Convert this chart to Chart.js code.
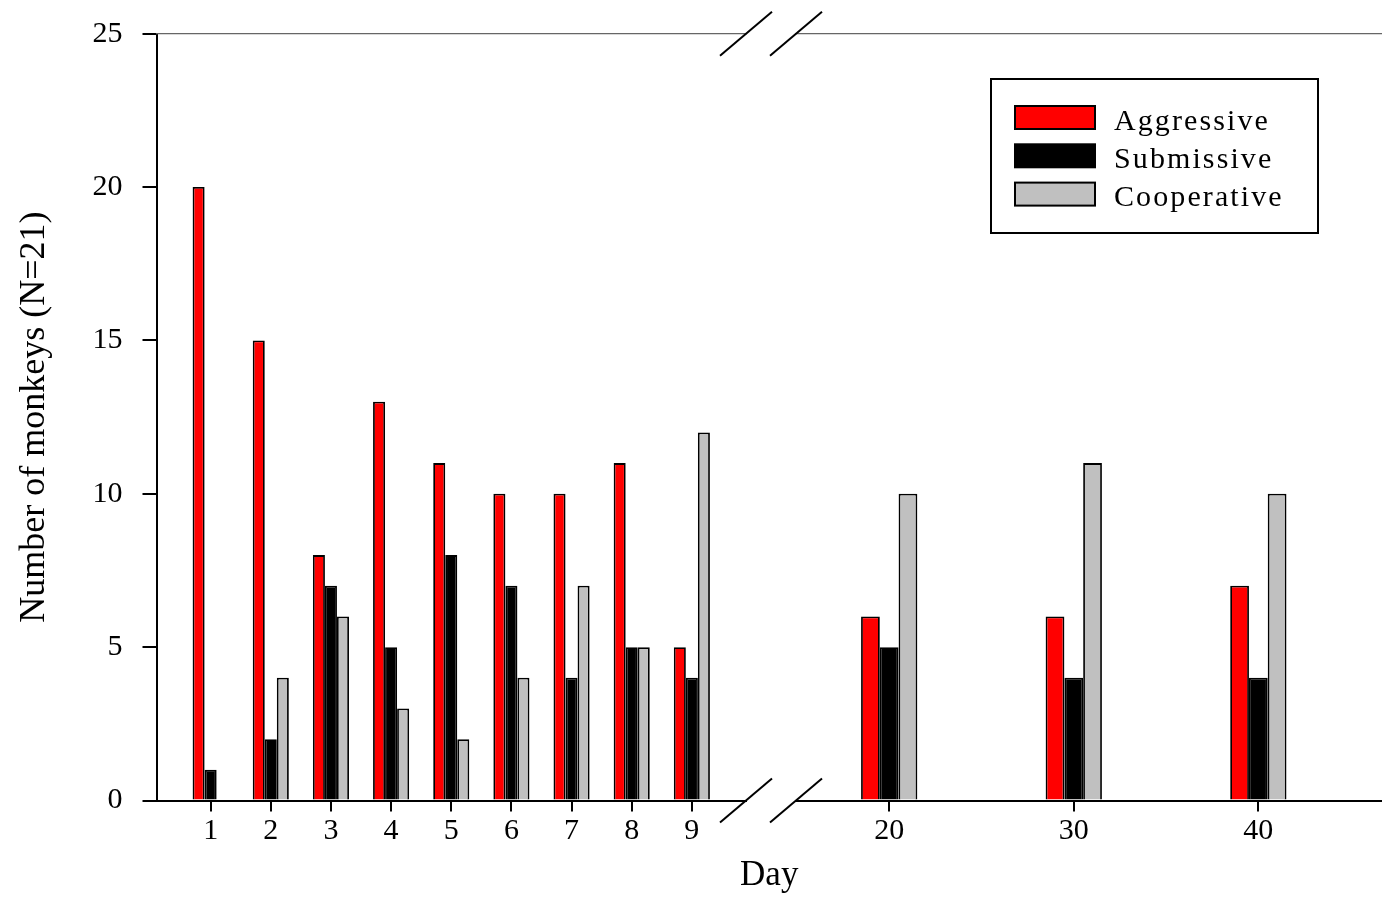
<!DOCTYPE html>
<html><head><meta charset="utf-8">
<script src="https://cdn.jsdelivr.net/npm/chart.js@4.4.1/dist/chart.umd.min.js"></script>
<style>html,body{margin:0;padding:0;background:#fff;}
#wrap{position:relative;width:1382px;height:906px;}
#wrap canvas{position:absolute;left:0;top:0;display:block;}</style>
</head><body>
<div id="wrap">
<canvas id="c1" width="1382" height="906"></canvas>
<canvas id="c2" width="1382" height="906"></canvas>
</div>
<script>
// ---- data ----
const seriesNames = ['Aggressive', 'Submissive', 'Cooperative'];
const earlyDays = [1, 2, 3, 4, 5, 6, 7, 8, 9];
const lateDays = [20, 30, 40];
const aggressiveEarly  = [20, 15, 8, 13, 11, 10, 10, 11, 5];
const submissiveEarly  = [1, 2, 7, 5, 8, 7, 4, 5, 4];
const cooperativeEarly = [0, 4, 6, 3, 2, 4, 7, 5, 12];
const aggressiveLate   = [6, 6, 7];
const submissiveLate   = [5, 4, 4];
const cooperativeLate  = [10, 11, 10];
const yTickValues = [0, 5, 10, 15, 20, 25];
const xTitle = 'Day';
const yTitle = 'Number of monkeys (N=21)';

// ---- styles ----
const seriesColors = ['#ff0000', '#000000', '#c0c0c0'];
const FONT = "'Liberation Serif', 'Times New Roman', serif";
Chart.defaults.font.family = FONT;
Chart.defaults.color = '#000';

const pts = (days, vals) => days.map((d, i) => ({x: d, y: vals[i]}));
const earlySeries = [aggressiveEarly, submissiveEarly, cooperativeEarly];
const lateSeries = [aggressiveLate, submissiveLate, cooperativeLate];

const makeDatasets = (days, series, axisID, catPct) => seriesNames.map((name, k) => ({
  label: name, data: pts(days, series[k]), xAxisID: axisID,
  backgroundColor: seriesColors[k], borderColor: '#000', borderWidth: 1.8,
  categoryPercentage: catPct, barPercentage: 1
}));

const bottomFit = s => { s.height = 50; s.paddingLeft = 0; s.paddingRight = 0; };
const topFit = s => { s.height = 0; s.paddingLeft = 0; s.paddingRight = 0; s.paddingTop = 0; s.paddingBottom = 0; };
const setTicks = arr => s => { s.ticks = arr.map(v => ({value: v})); };

// visible: false -> same layout but nothing painted (overlay chart)
function makeOptions(visible) {
  const ink = c => visible ? c : 'rgba(0,0,0,0)';
  const bottomAxis = (min, max, days, weight, stackWeight) => ({
    type: 'linear', position: 'bottom', stack: 'xb', stackWeight, weight,
    min, max, offset: false,
    afterBuildTicks: setTicks(days), afterFit: bottomFit,
    grid: {display: true, offset: false, drawOnChartArea: false, drawTicks: true, tickLength: 11, lineWidth: 2, color: ink('#000')},
    border: {display: true, color: ink('#000'), width: 2},
    ticks: {autoSkip: false, maxRotation: 0, minRotation: 0, padding: 2, font: {size: 30}, color: ink('#000')}
  });
  const topAxis = (weight, stackWeight, show) => ({
    type: 'linear', position: 'top', stack: 'xt', stackWeight, weight,
    min: 0, max: 1, offset: false, afterFit: topFit,
    grid: {display: false, drawTicks: false},
    border: {display: show, color: ink('#666666'), width: 1.3},
    ticks: {display: false}
  });
  return {
    responsive: false, animation: false, devicePixelRatio: 1,
    layout: {padding: {top: 33.7, left: 0, right: 0, bottom: 0}},
    plugins: {
      legend: {display: false}, tooltip: {enabled: false},
      title: {display: true, text: xTitle, position: 'bottom', fullSize: false,
        font: {size: 35, weight: 'normal'}, color: ink('#000'), padding: {top: 4.5, bottom: 9}}
    },
    scales: {
      y: {type: 'linear', position: 'left', min: 0, max: 25,
        afterBuildTicks: setTicks(yTickValues),
        afterFit: s => { s.width = 156.5; s.paddingTop = 0; s.paddingBottom = 0; },
        grid: {display: true, drawOnChartArea: false, drawTicks: true, tickLength: 14, lineWidth: 2, color: ink('#000')},
        border: {display: true, color: ink('#000'), width: 2},
        ticks: {padding: 20, font: {size: 30}, color: ink('#000')},
        title: {display: true, text: yTitle, font: {size: 36}, color: ink('#000'), padding: {top: 13, bottom: 0}}
      },
      xL: bottomAxis(0.1, 9.9, earlyDays, 1, 589.5),
      xG: Object.assign(bottomAxis(0, 1, [], 2, 50), {
        grid: {display: false, drawTicks: false}, border: {display: false}, ticks: {display: false}}),
      xR: bottomAxis(14.95, 46.7, lateDays, 3, 586),
      xLt: topAxis(3, 589.5, true),
      xGt: topAxis(2, 50, false),
      xRt: topAxis(1, 586, true)
    }
  };
}

const legendPlugin = {
  id: 'boxLegend',
  afterDraw(chart) {
    const ctx = chart.ctx;
    const box = {l: 991, t: 79, r: 1318, b: 233};
    ctx.save();
    ctx.fillStyle = '#fff';
    ctx.fillRect(box.l, box.t, box.r - box.l, box.b - box.t);
    ctx.strokeStyle = '#000'; ctx.lineWidth = 2;
    ctx.strokeRect(box.l, box.t, box.r - box.l, box.b - box.t);
    ctx.font = '30px ' + FONT;
    ctx.textBaseline = 'alphabetic';
    if ('letterSpacing' in ctx) ctx.letterSpacing = '2.1px';
    for (let k = 0; k < 3; k++) {
      const ds = chart.data.datasets[k];
      const y = 106 + k * 38.3;
      ctx.fillStyle = ds.backgroundColor;
      ctx.fillRect(1015, y, 80, 23);
      ctx.strokeStyle = '#000'; ctx.lineWidth = 2;
      ctx.strokeRect(1015, y, 80, 23);
      ctx.fillStyle = '#000';
      ctx.fillText(ds.label, 1114, y + 23.5);
    }
    ctx.restore();
  }
};

const breakPlugin = {
  id: 'breakMarks',
  afterDraw(chart) {
    const g = chart.scales.xG; const {top, bottom} = chart.chartArea;
    const ctx = chart.ctx;
    ctx.save(); ctx.strokeStyle = '#000'; ctx.lineWidth = 2;
    [g.left, g.right].forEach(cx => [top, bottom].forEach(cy => {
      ctx.beginPath(); ctx.moveTo(cx - 26, cy + 22); ctx.lineTo(cx + 26, cy - 22); ctx.stroke();
    }));
    ctx.restore();
  }
};

// days 1-9 segment (with axes, titles, legend, break marks)
new Chart(document.getElementById('c1'), {
  type: 'bar',
  data: {datasets: makeDatasets(earlyDays, earlySeries, 'xL', 0.6)},
  plugins: [legendPlugin, breakPlugin],
  options: makeOptions(true)
});
// days 20-40 segment, same layout, drawn on an overlay
new Chart(document.getElementById('c2'), {
  type: 'bar',
  data: {datasets: makeDatasets(lateDays, lateSeries, 'xR', 0.305)},
  options: makeOptions(false)
});
</script>
</body></html>
